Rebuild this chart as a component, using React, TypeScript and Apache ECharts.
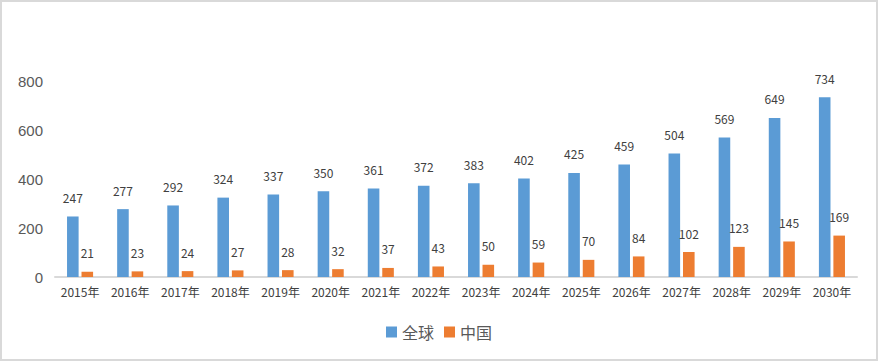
import React, { useEffect, useRef } from "react";
import * as echarts from "echarts";

const categories = ["2015年","2016年","2017年","2018年","2019年","2020年","2021年","2022年","2023年","2024年","2025年","2026年","2027年","2028年","2029年","2030年"];
const globalValues = [247,277,292,324,337,350,361,372,383,402,425,459,504,569,649,734];
const chinaValues = [21,23,24,27,28,32,37,43,50,59,70,84,102,123,145,169];
const yTicks = { min: 0, max: 800, interval: 200 };

export default function App() {
  const ref = useRef<HTMLDivElement>(null);
  useEffect(() => {
    if (!ref.current) return;
    const chart = echarts.init(ref.current, null, { renderer: "svg" });
    const labelStyle = {
      show: true,
      position: "top" as const,
      distance: 13,
      fontFamily: "Noto Sans CJK SC",
      fontSize: 12,
      color: "#404040",
    };
    chart.setOption({
      animation: false,
      graphic: [
        {
          type: "rect",
          shape: { x: 1, y: 1, width: 876, height: 359 },
          style: { fill: "none", stroke: "#d9d9d9", lineWidth: 2 },
          silent: true,
        },
      ],
      grid: { left: 55, right: 21, top: 81, bottom: 84, containLabel: false },
      legend: {
        data: ["全球", "中国"],
        left: "center",
        top: 319,
        itemWidth: 11,
        itemHeight: 11,
        itemGap: 10,
        icon: "rect",
        textStyle: { fontSize: 16, color: "#595959", fontFamily: "Noto Sans CJK SC" },
      },
      xAxis: {
        type: "category",
        data: categories,
        axisLine: { lineStyle: { color: "#d9d9d9", width: 2 } },
        axisTick: { show: false },
        axisLabel: { interval: 0, fontFamily: "Noto Sans CJK SC", fontSize: 12, color: "#404040", margin: 8 },
      },
      yAxis: {
        type: "value",
        min: yTicks.min,
        max: yTicks.max,
        interval: yTicks.interval,
        axisLine: { show: false },
        axisTick: { show: false },
        splitLine: { show: false },
        axisLabel: { fontFamily: "Liberation Sans", fontSize: 15, color: "#595959", margin: 12 },
      },
      series: [
        {
          name: "全球",
          type: "bar",
          data: globalValues,
          itemStyle: { color: "#5B9BD5" },
          barGap: "25%",
          barCategoryGap: "48%",
          label: labelStyle,
        },
        {
          name: "中国",
          type: "bar",
          data: chinaValues,
          itemStyle: { color: "#ED7D31" },
          label: labelStyle,
        },
      ],
    });
    return () => chart.dispose();
  }, []);
  return (
    <div
      ref={ref}
      style={{ position: "fixed", left: 0, top: 0, width: 878, height: 361, background: "#fff" }}
    />
  );
}
